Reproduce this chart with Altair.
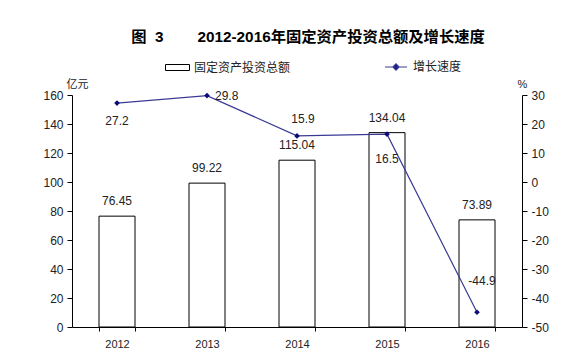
import altair as alt
import pandas as pd

years = ["2012", "2013", "2014", "2015", "2016"]
investment = [76.45, 99.22, 115.04, 134.04, 73.89]   # 亿元
growth = [27.2, 29.8, 15.9, 16.5, -44.9]             # %
series_names = ["固定资产投资总额", "增长速度"]

label_place = {"2012": "below", "2013": "right", "2014": "above",
               "2015": "below2", "2016": "upright"}

df = pd.DataFrame({
    "year": years,
    "amount": investment,
    "growth": growth,
    "place": [label_place[y] for y in years],
    "s_bar": [series_names[0]] * len(years),
    "s_line": [series_names[1]] * len(years),
})

NUM_FONT = "Liberation Sans"
CJK_FONT = "Noto Sans CJK SC"
LINE_COL = "#3a3a96"
PT_COL = "#0b0b7a"

x_enc = alt.X(
    "year:N",
    title=None,
    scale=alt.Scale(paddingInner=0.6, paddingOuter=0.3),
    axis=alt.Axis(labelAngle=0, labelFont=NUM_FONT, labelFontSize=11, labelColor="#222",
                  labelPadding=7, tickBand="extent", tickSize=4, tickColor="#000",
                  domainColor="#000", domainWidth=1),
)

left_axis = alt.Axis(values=[0, 20, 40, 60, 80, 100, 120, 140, 160], grid=False,
                     labelFont=NUM_FONT, labelFontSize=12, labelColor="#222",
                     labelExpr="toString(datum.value)",
                     tickColor="#000", tickSize=5, domainColor="#000", labelPadding=4,
                     title="亿元", titleFont=CJK_FONT, titleFontSize=11, titleFontWeight="normal",
                     titleColor="#222", titleAngle=0, titleX=5, titleY=-11,
                     titleAlign="center", titleBaseline="middle")
right_axis = alt.Axis(values=[-50, -40, -30, -20, -10, 0, 10, 20, 30], grid=False, orient="right",
                      labelFont=NUM_FONT, labelFontSize=12, labelColor="#222",
                      labelExpr="toString(datum.value)",
                      tickColor="#000", tickSize=5, domainColor="#000", labelPadding=4,
                      title="%", titleFont=NUM_FONT, titleFontSize=11, titleFontWeight="normal",
                      titleColor="#222", titleAngle=0, titleX=0, titleY=-11,
                      titleAlign="center", titleBaseline="middle")

y_left = alt.Y("amount:Q", scale=alt.Scale(domain=[0, 160], nice=False), axis=left_axis)
y_right = alt.Y("growth:Q", scale=alt.Scale(domain=[-50, 30], nice=False), axis=right_axis)

base = alt.Chart(df).encode(x=x_enc)

bars = base.mark_bar(stroke="#000", strokeWidth=1).encode(
    y=y_left,
    fill=alt.Fill(
        "s_bar:N",
        scale=alt.Scale(range=["white"]),
        legend=alt.Legend(title=None, orient="none", legendX=93, legendY=-40,
                          symbolType="M-1,-0.25H1V0.25H-1Z", symbolSize=576,
                          symbolStrokeColor="#000", symbolStrokeWidth=1,
                          labelFont=CJK_FONT, labelFontSize=12, labelColor="#222",
                          labelOffset=4),
    ),
)
bar_labels = base.transform_calculate(lbl="toString(datum.amount)").mark_text(
    dy=-15, font=NUM_FONT, fontSize=12, color="#222").encode(
    y=y_left, text="lbl:N")

line = base.mark_line(strokeWidth=1.2).encode(
    y=y_right,
    stroke=alt.Stroke(
        "s_line:N",
        scale=alt.Scale(range=[LINE_COL]),
        legend=alt.Legend(title=None, orient="none", legendX=312, legendY=-40,
                          symbolType="M-1,0H1M-0.28,0L0,-0.28L0.28,0L0,0.28Z", symbolSize=484,
                          symbolFillColor=PT_COL, symbolStrokeWidth=1.2,
                          labelFont=CJK_FONT, labelFontSize=12, labelColor="#222",
                          labelOffset=5),
    ),
)
points = base.mark_point(shape="diamond", filled=True, size=32, color=PT_COL, opacity=1).encode(
    y=y_right)

def glabel(place, **kw):
    return base.transform_filter(alt.datum.place == place).transform_calculate(
        lbl="toString(datum.growth)").mark_text(
        font=NUM_FONT, fontSize=12, color="#222", **kw).encode(
        y=y_right, text="lbl:N")

line_labels = [
    glabel("below", dy=18),
    glabel("right", dx=8, align="left"),
    glabel("above", dy=-17, dx=6),
    glabel("below2", dy=25),
    glabel("upright", dy=-31, dx=5),
]

left_layer = alt.layer(bars, bar_labels)
right_layer = alt.layer(line, points, *line_labels)

NB = "\u00a0"
title_text = "图" + NB * 2 + "3" + NB * 8 + "2012-2016年固定资产投资总额及增长速度"

chart = alt.layer(left_layer, right_layer).resolve_scale(
    y="independent", fill="independent", stroke="independent"
).properties(
    width=450, height=232,
    autosize=alt.AutoSizeParams(type="none"),
    padding={"left": 64, "top": 87, "right": 54, "bottom": 26},
    title=alt.Title(
        title_text,
        font="Liberation Sans, Noto Sans CJK SC", fontSize=15.3, fontWeight="bold",
        color="#000", anchor="middle", frame="group", dx=11, offset=10,
    ),
    background="white",
).configure_view(stroke=None).configure_axis(grid=False)

chart.save("out.html", embed_options={"renderer": "svg", "actions": False})
